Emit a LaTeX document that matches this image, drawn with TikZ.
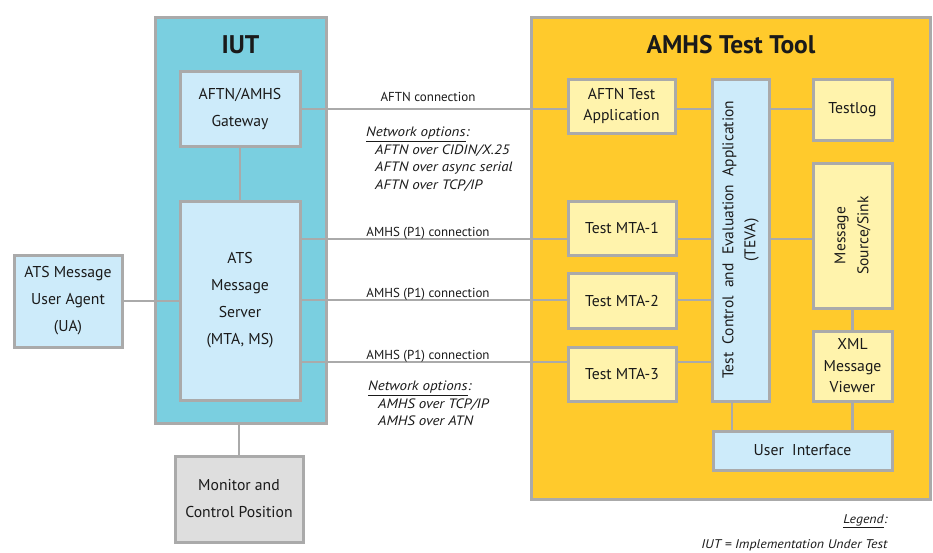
\documentclass[tikz,border=0pt]{standalone}
\usepackage{fontspec}
\setmainfont{PT Sans}
\newfontfamily\noteface[FakeStretch=1.1]{PT Sans}
\usetikzlibrary{positioning}
\definecolor{iutcol}{HTML}{7ACFE0}
\definecolor{toolcol}{HTML}{FFCA2C}
\definecolor{paleblue}{HTML}{CDEBFA}
\definecolor{paleyellow}{HTML}{FFF3AC}
\definecolor{palegray}{HTML}{DEDEDE}
\definecolor{framecol}{HTML}{AAAAAA}
\definecolor{inkcol}{HTML}{1A1A1A}
\begin{document}
\begin{tikzpicture}[x=1pt,y=-1pt,
  every node/.style={text=inkcol},
  edgebox/.style={draw=framecol,line width=3pt,inner sep=0pt},
  bluebox/.style={edgebox,fill=paleblue,align=center,font=\fontsize{15.7}{27}\selectfont},
  yellowbox/.style={edgebox,fill=paleyellow,align=center,font=\fontsize{15.7}{21.5}\selectfont},
  sideways/.style={rotate=90,align=center,inner sep=0pt,font=\fontsize{15.5}{#1}\selectfont},
  link/.style={draw=framecol,line width=2.8pt},
  headline/.style={font=\fontsize{25.5}{28}\selectfont\bfseries},
  conn/.style={anchor=base,font=\fontsize{13}{15}\selectfont},
  netopts/.style={anchor=north west,inner sep=0pt,align=left,font=\fontsize{13.6}{17.5}\noteface\itshape},
  legendtext/.style={anchor=base east,font=\fontsize{12.6}{15}\noteface\itshape}]
\useasboundingbox (0,0) rectangle (933,552);
\node[edgebox,fill=iutcol,minimum width=171,minimum height=406] (iut) at (240.5,220) {};
\node[edgebox,fill=toolcol,minimum width=399,minimum height=482] (tool) at (731,258) {};
\node[headline] (iutt) at (240.5,45) {IUT};
\node[headline] (toolt) at (731,45) {AMHS Test Tool};

\node[bluebox,minimum width=120,minimum height=75] (gw) at (240,109) {AFTN/AMHS\\Gateway};
\node[bluebox,minimum width=120,minimum height=199] (srv) at (240,300.5) {ATS\\Message\\Server\\(MTA, MS)};
\node[bluebox,minimum width=108,minimum height=92] (ua) at (68,301) {ATS Message\\User Agent\\(UA)};
\node[bluebox,fill=palegray,minimum width=128,minimum height=86] (mon) at (239,499) {Monitor and\\Control Position};

\node[yellowbox,minimum width=107,minimum height=54] (aftn) at (621.5,106) {AFTN Test\\Application};
\node[yellowbox,minimum width=108,minimum height=54] (mta1) at (622,228) {Test MTA-1};
\node[yellowbox,minimum width=108,minimum height=55] (mta2) at (622,300.5) {Test MTA-2};
\node[yellowbox,minimum width=108,minimum height=54] (mta3) at (622,374) {Test MTA-3};
\node[bluebox,minimum width=57,minimum height=322] (teva) at (740.5,240) {};
\node[sideways=22] (tevat) at (teva) {Test\ \ Control\ \ and\ \ Evaluation\ \ Application\\(TEVA)};
\node[yellowbox,minimum width=79,minimum height=61] (tlog) at (852.5,109.5) {Testlog};
\node[yellowbox,minimum width=79,minimum height=145] (src) at (852.5,235.5) {};
\node[sideways=23] (srct) at (src) {Message\\Source/Sink};
\node[yellowbox,minimum width=79,minimum height=70] (xml) at (852.5,366) {XML\\Message\\Viewer};
\node[bluebox,minimum width=179,minimum height=39] (ui) at (802.5,450.5) {User\ \ Interface};

\coordinate (ya) at (0,109);
\coordinate (y1) at (0,239);
\coordinate (y2) at (0,300);
\coordinate (y3) at (0,362);
\coordinate (xu) at (732,0);
\draw[link] (gw.east |- ya) -- (aftn.west |- ya);
\draw[link] (aftn.east |- ya) -- (teva.west |- ya);
\draw[link] (teva.east |- ya) -- (tlog.west |- ya);
\draw[link] (gw) -- (srv);
\draw[link] (ua.east) -- (ua.east -| srv.west);
\draw[link] (mon.north |- iut.south) -- (mon.north);
\foreach \m/\y in {mta1/y1,mta2/y2,mta3/y3} {
  \draw[link] (srv.east |- \y) -- (\m.west |- \y);
  \draw[link] (\m.east |- \y) -- (teva.west |- \y);
}
\draw[link] (teva.east |- y1) -- (src.west |- y1);
\draw[link] (src) -- (xml);
\draw[link] (xml.south) -- (xml.south |- ui.north);
\draw[link] (teva.south -| xu) -- (ui.north -| xu);

\node[conn] (la) at (428,101) {AFTN connection};
\node[conn] (l1) at (428,236) {AMHS (P1) connection};
\node[conn] (l2) at (428,297) {AMHS (P1) connection};
\node[conn] (l3) at (428,359) {AMHS (P1) connection};
\node[netopts] (opta) at (366,127) {\underline{Network options}:\\
  \hspace*{9pt}AFTN over CIDIN/X.25\\
  \hspace*{9pt}AFTN over async serial\\
  \hspace*{9pt}AFTN over TCP/IP};
\node[netopts] (optb) at (368,381) {\underline{Network options}:\\
  \hspace*{10pt}AMHS over TCP/IP\\
  \hspace*{10pt}AMHS over ATN};
\node[legendtext] (leg) at (891,523) {\underline{Legend}:};
\node[legendtext] (legt) at (891,548) {IUT = Implementation Under Test};
\end{tikzpicture}
\end{document}
